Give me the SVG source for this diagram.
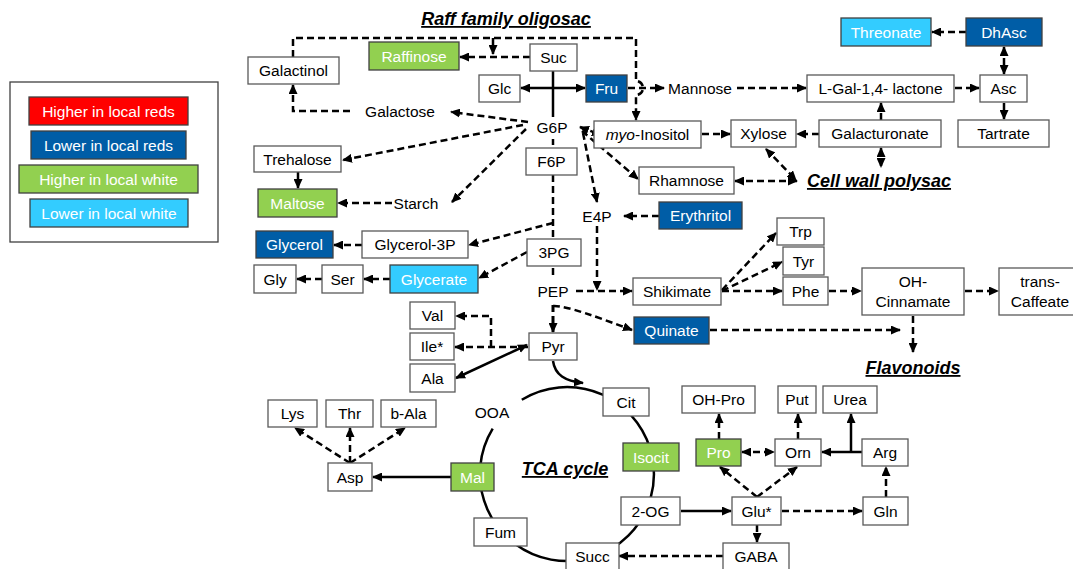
<svg xmlns="http://www.w3.org/2000/svg" width="1073" height="569" viewBox="0 0 1073 569">
<style>
text{font-family:"Liberation Sans",Arial,sans-serif;font-size:15.5px;fill:#000;text-anchor:middle}
.b rect,rect.b{fill:#fff;stroke:#595959;stroke-width:1.3}
.w{fill:#fff}
.red{fill:#FF0000;stroke:#404040;stroke-width:1.3}
.db{fill:#005DA6;stroke:#404040;stroke-width:1.3}
.gr{fill:#92D050;stroke:#404040;stroke-width:1.3}
.lb{fill:#33CCFF;stroke:#404040;stroke-width:1.3}
.t{font-weight:bold;font-style:italic;font-size:18px;text-decoration:underline}
.d{fill:none;stroke:#000;stroke-width:2.5;stroke-dasharray:7 4;marker-end:url(#a)}
.dn{fill:none;stroke:#000;stroke-width:2.5;stroke-dasharray:7 4}
.d2{fill:none;stroke:#000;stroke-width:2.5;stroke-dasharray:7 4;marker-end:url(#a);marker-start:url(#a)}
.s{fill:none;stroke:#000;stroke-width:2.5;marker-end:url(#a)}
.sn{fill:none;stroke:#000;stroke-width:2.5}
.s2{fill:none;stroke:#000;stroke-width:2.5;marker-end:url(#a);marker-start:url(#a)}
</style>
<defs>
<marker id="a" markerUnits="userSpaceOnUse" markerWidth="10" markerHeight="9" refX="9" refY="4.5" orient="auto-start-reverse" viewBox="0 0 10 9">
<path d="M0,0 L10,4.5 L0,9 z" fill="#000"/>
</marker>
</defs>
<rect width="1073" height="569" fill="#fff"/>

<g id="legend">
<rect x="10" y="82" width="208" height="160" fill="#fff" stroke="#404040" stroke-width="1.3"/>
<rect class="red" x="29" y="97" width="159" height="28"/><text class="w" x="108.5" y="116.5">Higher in local reds</text>
<rect class="db" x="31" y="131" width="155" height="28"/><text class="w" x="108.5" y="150.5">Lower in local reds</text>
<rect class="gr" x="19" y="165" width="179" height="28"/><text class="w" x="108.5" y="184.5">Higher in local white</text>
<rect class="lb" x="30" y="199" width="158" height="28"/><text class="w" x="109" y="218.5">Lower in local white</text>
</g>

<g id="titles">
<text class="t" x="506" y="25">Raff family oligosac</text>
<text class="t" x="879" y="187">Cell wall polysac</text>
<text class="t" x="913" y="374">Flavonoids</text>
<text class="t" x="565" y="475">TCA cycle</text>
</g>

<g id="connectors">
<path class="sn" d="M 521.8 399.7 A 87 87 0 1 1 492.7 428.7"/>
<path class="d" d="M 293 57 V 38 H 636 V 81 A 7 7 0 0 1 636 95 V 120"/>
<path class="d" d="M 493 38 V 54"/>
<path class="d" d="M 530 57 H 460"/>
<path class="d" d="M 350 111 H 293 V 85"/>
<path class="d" d="M 528 122 L 451 112"/>
<path class="sn" d="M 553 71 V 117"/>
<path class="s2" d="M 521 88 H 585"/>
<path class="d" d="M 628 88 H 664"/>
<path class="d" d="M 737 88 H 806"/>
<path class="d" d="M 955 88 H 979"/>
<path class="d2" d="M 1004 47 V 74"/>
<path class="d" d="M 966 32 H 932"/>
<path class="d" d="M 1004 103 V 119"/>
<path class="d" d="M 881 120 V 103"/>
<path class="d" d="M 819 134 H 797"/>
<path class="d" d="M 702 134 H 730"/>
<path class="d2" d="M 881 148 V 167"/>
<path class="d2" d="M 766 149 L 796 180"/>
<path class="d2" d="M 735 181 H 797"/>
<path class="d2" d="M 580 127 L 601 135"/>
<path class="d" d="M 582 131 L 638 179"/>
<path class="d" d="M 583 133 L 597 202"/>
<path class="d" d="M 523 125 L 343 160"/>
<path class="d" d="M 526 129 L 452 202"/>
<path class="s" d="M 298 172 V 188"/>
<path class="d" d="M 392 203 H 338"/>
<path class="dn" d="M 553 139 V 145"/>
<path class="dn" d="M 553 175 V 239"/>
<path class="d" d="M 553 223 L 469 245"/>
<path class="d" d="M 527 252 L 479 278"/>
<path class="d" d="M 390 279 H 364"/>
<path class="d" d="M 322 279 H 297"/>
<path class="d" d="M 362 245 H 334"/>
<path class="dn" d="M 553 268 V 276"/>
<path class="d" d="M 659 216 H 624"/>
<path class="d" d="M 597 226 V 290"/>
<path class="d" d="M 576 291 H 632"/>
<path class="d" d="M 722 290 L 776 233"/>
<path class="d" d="M 722 291 L 782 262"/>
<path class="d" d="M 722 291 H 782"/>
<path class="d" d="M 829 291 H 861"/>
<path class="d" d="M 965 291 H 998"/>
<path class="d" d="M 913 316 V 352"/>
<path class="d" d="M 710 330 H 900"/>
<path class="d" d="M 553 306 C 565 305 600 318 632 330"/>
<path class="d" style="stroke-width:3" d="M 553 305 V 332"/>
<path class="d" d="M 528 347 H 455"/>
<path class="d" d="M 491 347 V 316 H 456"/>
<path class="s2" d="M 527 345 L 456 378"/>
<path class="s" d="M 553 361 C 555 375 565 381 583 383"/>
<path class="s" d="M 451 477 H 373"/>
<path class="d" d="M 350 463 L 295 428"/>
<path class="d" d="M 350 463 V 428"/>
<path class="d" d="M 350 463 L 405 428"/>
<path class="s" d="M 681 511 H 731"/>
<path class="d" d="M 782 511 H 862"/>
<path class="d" d="M 886 497 V 467"/>
<path class="s" d="M 862 452 H 822"/>
<path class="s" d="M 851 452 V 414"/>
<path class="d" d="M 798 439 V 414"/>
<path class="d2" d="M 742 452 H 774"/>
<path class="d" d="M 719 439 V 414"/>
<path class="d" d="M 757 497 L 720 467"/>
<path class="d" d="M 757 497 L 797 467"/>
<path class="d" d="M 757 525 V 542"/>
<path class="d" d="M 723 556 H 619"/>
</g>

<g id="n-galactinol" class="b"><rect x="248" y="57" width="91" height="27"/><text x="293.5" y="76">Galactinol</text></g>
<g id="n-raffinose"><rect class="gr" x="369" y="42" width="90" height="28"/><text class="w" x="414" y="61.5">Raffinose</text></g>
<g id="n-suc" class="b"><rect x="530" y="44" width="47" height="27"/><text x="553.5" y="63">Suc</text></g>
<g id="n-glc" class="b"><rect x="479" y="75" width="41" height="27"/><text x="499.5" y="94">Glc</text></g>
<g id="n-fru"><rect class="db" x="586" y="75" width="41" height="27"/><text class="w" x="606.5" y="94">Fru</text></g>
<g id="n-mannose"><text x="700" y="94">Mannose</text></g>
<g id="n-lgal" class="b"><rect x="807" y="75" width="147" height="27"/><text x="880.5" y="94">L-Gal-1,4- lactone</text></g>
<g id="n-asc" class="b"><rect x="980" y="75" width="47" height="27"/><text x="1003.5" y="94">Asc</text></g>
<g id="n-threonate"><rect class="lb" x="841" y="18" width="90" height="28"/><text class="w" x="886" y="37.5">Threonate</text></g>
<g id="n-dhasc"><rect class="db" x="966" y="18" width="76" height="28"/><text class="w" x="1004" y="37.5">DhAsc</text></g>
<g id="n-tartrate" class="b"><rect x="958" y="120" width="91" height="27"/><text x="1003.5" y="139">Tartrate</text></g>
<g id="n-galacturonate" class="b"><rect x="819" y="120" width="122" height="27"/><text x="880" y="139">Galacturonate</text></g>
<g id="n-xylose" class="b"><rect x="731" y="120" width="65" height="27"/><text x="763.5" y="139">Xylose</text></g>
<g id="n-myoinositol" class="b"><rect x="594" y="121" width="107" height="27"/><text x="647.5" y="140"><tspan font-style="italic">myo</tspan>-Inositol</text></g>
<g id="n-galactose"><text x="400" y="117">Galactose</text></g>
<g id="n-g6p"><text x="552" y="133">G6P</text></g>
<g id="n-f6p" class="b"><rect x="526" y="148" width="51" height="27"/><text x="551.5" y="167">F6P</text></g>
<g id="n-rhamnose" class="b"><rect x="639" y="167" width="95" height="27"/><text x="686.5" y="186">Rhamnose</text></g>
<g id="n-trehalose" class="b"><rect x="254" y="146" width="87" height="26"/><text x="297.5" y="164.5">Trehalose</text></g>
<g id="n-maltose"><rect class="gr" x="258" y="189" width="79" height="28"/><text class="w" x="297.5" y="208.5">Maltose</text></g>
<g id="n-starch"><text x="416" y="209">Starch</text></g>
<g id="n-glycerol"><rect class="db" x="256" y="231" width="77" height="27"/><text class="w" x="294.5" y="250">Glycerol</text></g>
<g id="n-glycerol3p" class="b"><rect x="362" y="231" width="106" height="27"/><text x="415" y="250">Glycerol-3P</text></g>
<g id="n-gly" class="b"><rect x="254" y="265" width="42" height="28"/><text x="275" y="284.5">Gly</text></g>
<g id="n-ser" class="b"><rect x="322" y="265" width="41" height="28"/><text x="342.5" y="284.5">Ser</text></g>
<g id="n-glycerate"><rect class="lb" x="390" y="265" width="88" height="28"/><text class="w" x="434" y="284.5">Glycerate</text></g>
<g id="n-e4p"><text x="597" y="222">E4P</text></g>
<g id="n-erythritol"><rect class="db" x="659" y="202" width="83" height="27"/><text class="w" x="700.5" y="221">Erythritol</text></g>
<g id="n-3pg" class="b"><rect x="527" y="239" width="54" height="27"/><text x="554" y="258">3PG</text></g>
<g id="n-pep"><text x="553" y="297">PEP</text></g>
<g id="n-shikimate" class="b"><rect x="633" y="278" width="88" height="27"/><text x="677" y="297">Shikimate</text></g>
<g id="n-trp" class="b"><rect x="777" y="218" width="47" height="27"/><text x="800.5" y="237">Trp</text></g>
<g id="n-tyr" class="b"><rect x="783" y="247" width="41" height="28"/><text x="803.5" y="266.5">Tyr</text></g>
<g id="n-phe" class="b"><rect x="783" y="277" width="45" height="28"/><text x="805.5" y="296.5">Phe</text></g>
<g id="n-ohcinnamate" class="b"><rect x="862" y="268" width="102" height="47"/><text x="913" y="287">OH-</text><text x="913" y="307">Cinnamate</text></g>
<g id="n-transcaffeate" class="b"><rect x="999" y="268" width="82" height="47"/><text x="1040" y="287">trans-</text><text x="1040" y="307">Caffeate</text></g>
<g id="n-quinate"><rect class="db" x="634" y="317" width="75" height="27"/><text class="w" x="671.5" y="336">Quinate</text></g>
<g id="n-val" class="b"><rect x="410" y="302" width="45" height="27"/><text x="432.5" y="321">Val</text></g>
<g id="n-ile" class="b"><rect x="410" y="333" width="44" height="27"/><text x="432" y="352">Ile*</text></g>
<g id="n-ala" class="b"><rect x="410" y="364" width="45" height="28"/><text x="432.5" y="383.5">Ala</text></g>
<g id="n-pyr" class="b"><rect x="529" y="333" width="48" height="27"/><text x="553" y="352">Pyr</text></g>
<g id="n-lys" class="b"><rect x="268" y="400" width="49" height="27"/><text x="292.5" y="419">Lys</text></g>
<g id="n-thr" class="b"><rect x="326" y="400" width="47" height="27"/><text x="349.5" y="419">Thr</text></g>
<g id="n-bala" class="b"><rect x="381" y="400" width="55" height="27"/><text x="408.5" y="419">b-Ala</text></g>
<g id="n-asp" class="b"><rect x="328" y="463" width="44" height="28"/><text x="350" y="482.5">Asp</text></g>
<g id="n-mal"><rect class="gr" x="451" y="463" width="43" height="28"/><text class="w" x="472.5" y="482.5">Mal</text></g>
<g id="n-ooa"><text x="492" y="418">OOA</text></g>
<g id="n-cit" class="b"><rect x="603" y="388" width="46" height="28"/><text x="626" y="407.5">Cit</text></g>
<g id="n-isocit"><rect class="gr" x="623" y="443" width="56" height="28"/><text class="w" x="651" y="462.5">Isocit</text></g>
<g id="n-2og" class="b"><rect x="621" y="497" width="59" height="28"/><text x="650.5" y="516.5">2-OG</text></g>
<g id="n-fum" class="b"><rect x="474" y="518" width="53" height="28"/><text x="500.5" y="537.5">Fum</text></g>
<g id="n-succ" class="b"><rect x="566" y="543" width="53" height="30"/><text x="592.5" y="562">Succ</text></g>
<g id="n-ohpro" class="b"><rect x="682" y="386" width="73" height="27"/><text x="718.5" y="405">OH-Pro</text></g>
<g id="n-put" class="b"><rect x="778" y="386" width="38" height="27"/><text x="797" y="405">Put</text></g>
<g id="n-urea" class="b"><rect x="823" y="386" width="54" height="27"/><text x="850" y="405">Urea</text></g>
<g id="n-pro"><rect class="gr" x="696" y="439" width="45" height="27"/><text class="w" x="718.5" y="458">Pro</text></g>
<g id="n-orn" class="b"><rect x="775" y="439" width="46" height="27"/><text x="798" y="458">Orn</text></g>
<g id="n-arg" class="b"><rect x="862" y="439" width="46" height="27"/><text x="885" y="458">Arg</text></g>
<g id="n-glu" class="b"><rect x="732" y="497" width="49" height="28"/><text x="756.5" y="516.5">Glu*</text></g>
<g id="n-gln" class="b"><rect x="863" y="497" width="45" height="28"/><text x="885.5" y="516.5">Gln</text></g>
<g id="n-gaba" class="b"><rect x="723" y="543" width="66" height="30"/><text x="756" y="562">GABA</text></g>
</svg>
